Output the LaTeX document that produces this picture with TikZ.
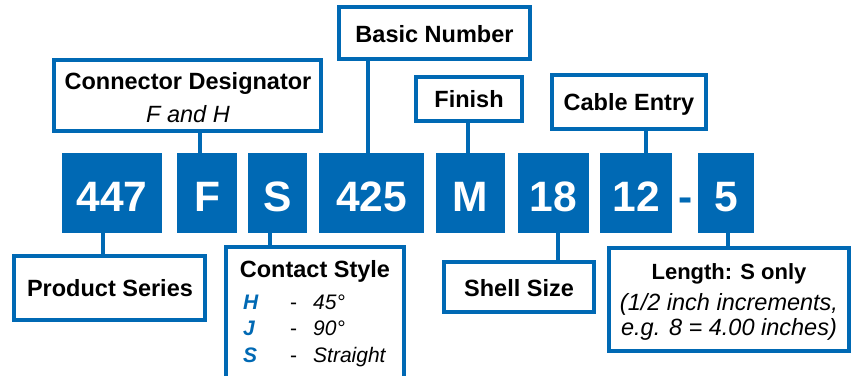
\documentclass[tikz,border=0pt]{standalone}
\usepackage{fontspec}
\setmainfont{Liberation Sans}
\definecolor{teblue}{RGB}{0,105,180}
\begin{document}
\begin{tikzpicture}[x=1pt,y=-1pt,
  code/.style={fill=teblue, inner sep=0pt, outer sep=0pt, minimum height=80pt},
  lab/.style={draw=teblue, line width=4pt, fill=white, inner sep=0pt},
  conn/.style={draw=teblue, line width=3.5pt},
  big/.style={font=\fontsize{42.5}{50}\selectfont\bfseries, text=white, anchor=base, inner sep=0pt},
  head/.style={font=\fontsize{23.5}{28}\selectfont\bfseries, anchor=base, inner sep=0pt},
  ital/.style={font=\fontsize{23.5}{28}\selectfont\itshape, anchor=base, inner sep=0pt},
  key/.style={font=\fontsize{21}{25}\selectfont\bfseries\itshape, text=teblue, anchor=base west, inner sep=0pt},
  dashtxt/.style={font=\fontsize{21}{25}\selectfont, anchor=base west, inner sep=0pt},
  val/.style={font=\fontsize{21}{25}\selectfont\itshape, anchor=base west, inner sep=0pt}]
\useasboundingbox (0,0) rectangle (854,375);

% connector x positions
\coordinate (x447) at (103,0);
\coordinate (xF) at (200,0);
\coordinate (xS) at (270,0);
\coordinate (x425) at (368,0);
\coordinate (xM) at (468,0);
\coordinate (x18) at (558,0);
\coordinate (x12) at (646,0);
\coordinate (x5) at (728,0);

% code boxes
\node[code, minimum width=100pt] (b447) at (112,193) {};
\node[code, minimum width=60pt] (bF) at (207,193) {};
\node[code, minimum width=59pt] (bS) at (277.5,193) {};
\node[code, minimum width=105pt] (b425) at (371.5,193) {};
\node[code, minimum width=69pt] (bM) at (470.5,193) {};
\node[code, minimum width=71pt] (b18) at (553.5,193) {};
\node[code, minimum width=72pt] (b12) at (636,193) {};
\node[code, minimum width=56pt] (b5) at (726,193) {};

\node[big] (t447) at (112,211) {447};
\node[big] (tF) at (207,211) {F};
\node[big] (tS) at (277.5,211) {S};
\node[big] (t425) at (371.5,211) {425};
\node[big] (tM) at (470.5,211) {M};
\node[big] (t18) at (553.5,211) {18};
\node[big] (t12) at (636,211) {12};
\node[big] (t5) at (726,211) {5};
\node[big, text=teblue] (tdash) at (686,211) {-};

% label boxes
\node[lab, minimum width=267pt, minimum height=71pt] (cd) at (187.5,95.5) {};
\node[lab, minimum width=191pt, minimum height=52pt] (bn) at (434.5,33) {};
\node[lab, minimum width=106pt, minimum height=44pt] (fi) at (469,99) {};
\node[lab, minimum width=154pt, minimum height=54pt] (ce) at (629,102) {};
\node[lab, minimum width=191pt, minimum height=64pt] (ps) at (109.5,288) {};
\node[lab, minimum width=178pt, minimum height=146pt] (cs) at (315,320) {};
\node[lab, minimum width=150pt, minimum height=50pt] (ss) at (519,287) {};
\node[lab, minimum width=240pt, minimum height=103pt] (le) at (729,299.5) {};

% connectors
\draw[conn] (cd.south -| xF) -- (bF.north -| xF);
\draw[conn] (bn.south -| x425) -- (b425.north -| x425);
\draw[conn] (fi.south -| xM) -- (bM.north -| xM);
\draw[conn] (ce.south -| x12) -- (b12.north -| x12);
\draw[conn] (b447.south -| x447) -- (ps.north -| x447);
\draw[conn] (bS.south -| xS) -- (cs.north -| xS);
\draw[conn] (b18.south -| x18) -- (ss.north -| x18);
\draw[conn] (b5.south -| x5) -- (le.north -| x5);

% label texts
\node[head] (tcd) at (188,89) {Connector Designator};
\node[ital] (tcd2) at (188,122) {F and H};
\node[head] (tbn) at (434.5,42) {Basic Number};
\node[head] (tfi) at (469,107) {Finish};
\node[head] (tce) at (629,110) {Cable Entry};
\node[head] (tps) at (110,296) {Product Series};
\node[head] (tss) at (519,296) {Shell Size};
\node[head] (tcs) at (315,277) {Contact Style};
\node[key] (kH) at (243,309) {H};
\node[dashtxt] (dH) at (290,309) {-};
\node[val] (vH) at (313,309) {45°};
\node[key] (kJ) at (243,335) {J};
\node[dashtxt] (dJ) at (290,335) {-};
\node[val] (vJ) at (313,335) {90°};
\node[key] (kS) at (243,362) {S};
\node[dashtxt] (dS) at (290,362) {-};
\node[val] (vS) at (313,362) {Straight};
\node[head, font=\fontsize{22}{26}\selectfont\bfseries] (tle) at (729,279) {Length: S only};
\node[ital] (tle2) at (729,310) {(1/2 inch increments,};
\node[ital] (tle3) at (729,335) {e.g. 8 = 4.00 inches)};
\end{tikzpicture}
\end{document}
